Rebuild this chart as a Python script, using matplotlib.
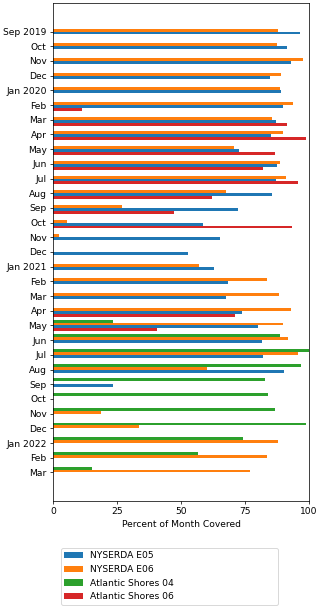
import numpy as np
import matplotlib
matplotlib.use("Agg")
import matplotlib.pyplot as plt

months = ["Sep 2019", "Oct", "Nov", "Dec", "Jan 2020", "Feb", "Mar", "Apr", "May", "Jun",
          "Jul", "Aug", "Sep", "Oct", "Nov", "Dec", "Jan 2021", "Feb", "Mar", "Apr",
          "May", "Jun", "Jul", "Aug", "Sep", "Oct", "Nov", "Dec", "Jan 2022", "Feb", "Mar"]
nan = np.nan
nyserda_e05 = [96.3, 91.4, 93.1, 84.7, 88.9, 89.8, 87.1, 85.3, 72.8, 87.5,
               87.0, 85.7, 72.4, 58.4, 65.2, 52.8, 62.8, 68.3, 67.7, 73.9,
               80.1, 81.6, 82.1, 90.4, 23.3, nan, nan, nan, nan, nan, nan]
nyserda_e06 = [87.9, 87.6, 97.5, 89.2, 88.8, 93.6, 85.7, 89.8, 70.8, 88.7,
               91.1, 67.4, 26.9, 5.3, 2.3, nan, 57.2, 83.6, 88.3, 93.1,
               89.7, 91.8, 95.8, 60.0, nan, nan, 18.8, 33.5, 87.9, 83.6, 76.9]
atlantic_04 = [nan] * 20 + [23.3, 88.7, 100.0, 96.7, 82.8, 84.0, 86.6, 98.7, 74.2, 56.5, 15.1]
atlantic_06 = [nan, nan, nan, nan, nan, 11.3, 91.3, 98.7, 86.7, 81.9,
               95.7, 62.2, 47.1, 93.4, nan, nan, nan, nan, nan, 71.2,
               40.5] + [nan] * 10

series = [
    ("NYSERDA E05", nyserda_e05, "tab:blue", 0.1),
    ("NYSERDA E06", nyserda_e06, "tab:orange", -0.1),
    ("Atlantic Shores 04", atlantic_04, "tab:green", -0.3),
    ("Atlantic Shores 06", atlantic_06, "tab:red", 0.3),
]

DPI = 66
W, H = 320, 608
fig = plt.figure(figsize=(W / DPI, H / DPI), dpi=DPI)
ax = fig.add_axes([53 / W, 1 - 501 / H, 256 / W, 498 / H])
y = np.arange(len(months))
handles = []
for name, vals, color, off in series:
    h = ax.barh(y + off, vals, height=0.2, color=color, label=name)
    handles.append(h)
ax.set_yticks(y)
ax.set_yticklabels(months)
ax.set_ylim(len(months) - 1 + 0.4 + 1.54, -0.4 - 1.54)
ax.set_xlim(0, 100)
ax.set_xticks([0, 25, 50, 75, 100])
ax.set_xlabel("Percent of Month Covered")

pad = 4.6
x0 = (60.7 - pad) / W
wid = (278.3 - 60.7 + 2 * pad) / W
ytop = 1 - (547.7 - pad) / H
fig.legend(handles=handles, loc="upper left", mode="expand",
           bbox_to_anchor=(x0, ytop, wid, 0), bbox_transform=fig.transFigure)
fig.savefig("out.png", dpi=DPI)
